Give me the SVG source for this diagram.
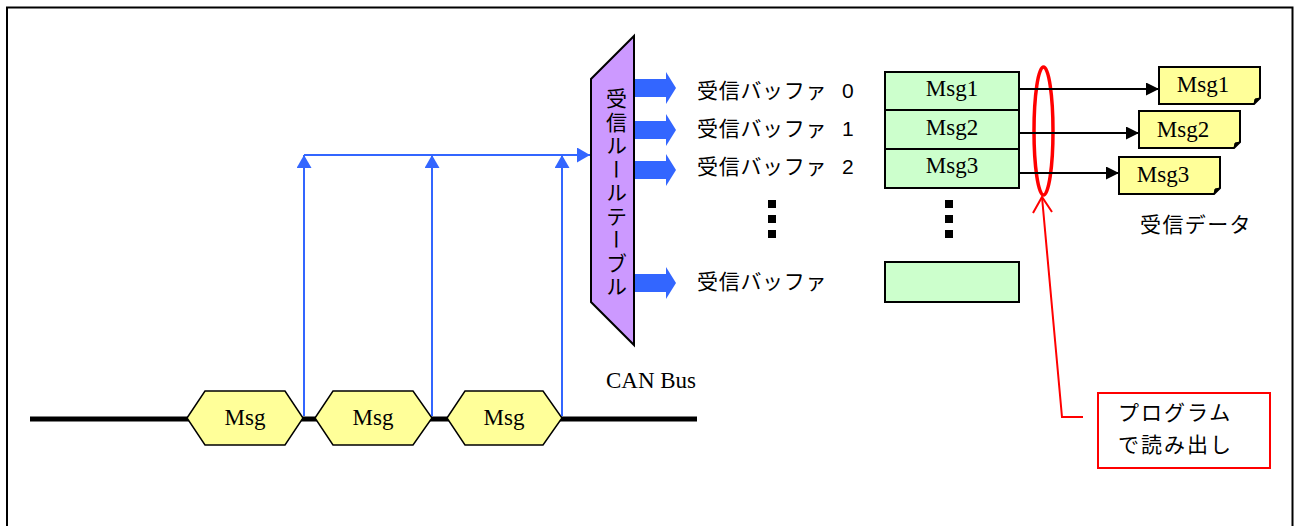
<svg xmlns="http://www.w3.org/2000/svg" width="1296" height="526" viewBox="0 0 1296 526">
  <defs>
    <style>
      .jp { font-family: "Liberation Sans", "Noto Sans CJK JP", sans-serif; font-size: 21px; fill: #000; }
      .serif { font-family: "Liberation Serif", serif; font-size: 23px; fill: #000; text-anchor: middle; }
      .blue { stroke: #3366FF; stroke-width: 2; fill: none; }
      .black { stroke: #000; stroke-width: 2; fill: none; }
      .red { stroke: #FF0000; stroke-width: 2; fill: none; }
      .hex { fill: #FFFF99; stroke: #000; stroke-width: 1.5; }
      .buf { fill: #CCFFCC; stroke: #000; stroke-width: 2; }
      .note { fill: #FFFF99; stroke: #000; stroke-width: 2; }
      .dot { fill: #000; }
    </style>
    <marker id="blueHead" viewBox="0 0 13 15" refX="13" refY="7.5" markerWidth="13" markerHeight="15" markerUnits="userSpaceOnUse" orient="auto">
      <path d="M0,0 L13,7.5 L0,15 Z" fill="#3366FF"/>
    </marker>
    <marker id="blackHead" viewBox="0 0 13 13" refX="13" refY="6.5" markerWidth="13" markerHeight="13" markerUnits="userSpaceOnUse" orient="auto">
      <path d="M0,0 L13,6.5 L0,13 Z" fill="#000"/>
    </marker>
    <!-- wide block arrow leaving the rule table -->
    <path id="blockArrow" d="M0,-9 H31 V-16 L41,0 L31,16 V9 H0 Z" fill="#3366FF"/>
    <!-- note with a turned-down corner -->
    <g id="noteShape">
      <path class="note" d="M0,0 H101 V31 L95,37 H0 Z"/>
      <path d="M95,37 L96,32 L101,31 Z" fill="#000" stroke="#000" stroke-width="1"/>
    </g>
  </defs>

  <!-- frame -->
  <rect x="7" y="7.5" width="1285.5" height="540" fill="none" stroke="#000" stroke-width="2"/>

  <!-- CAN bus line -->
  <g id="can-bus">
    <line x1="30" y1="419" x2="697" y2="419" stroke="#000" stroke-width="5"/>
    <text class="serif" x="651" y="388">CAN Bus</text>
  </g>

  <!-- messages on the bus -->
  <g id="msg-a">
    <polygon class="hex" points="187,418 205,391 285,391 303,418 285,445 205,445"/>
    <text class="serif" x="245" y="425">Msg</text>
  </g>
  <g id="msg-b">
    <polygon class="hex" points="315,418 333,391 413,391 432,418 413,445 333,445"/>
    <text class="serif" x="373" y="425">Msg</text>
  </g>
  <g id="msg-c">
    <polygon class="hex" points="447,418 465,391 543,391 562,418 543,445 465,445"/>
    <text class="serif" x="504" y="425">Msg</text>
  </g>

  <!-- receive rule table -->
  <g id="rule-table">
    <polygon points="634,36 634,345 591,302 591,79" fill="#CC99FF" stroke="#000" stroke-width="2"/>
    <text class="jp" x="615" y="88" style="writing-mode: vertical-rl; letter-spacing: 2.5px;">受信ルールテーブル</text>
  </g>

  <!-- receive buffers -->
  <g id="buffer-labels">
    <use href="#blockArrow" x="635" y="88"/>
    <use href="#blockArrow" x="635" y="130"/>
    <use href="#blockArrow" x="635" y="170"/>
    <use href="#blockArrow" x="635" y="283"/>
    <text class="jp" x="697" y="98" style="letter-spacing: 0.7px;">受信バッファ <tspan x="842">0</tspan></text>
    <text class="jp" x="697" y="136" style="letter-spacing: 0.7px;">受信バッファ <tspan x="842">1</tspan></text>
    <text class="jp" x="697" y="174" style="letter-spacing: 0.7px;">受信バッファ <tspan x="842">2</tspan></text>
    <text class="jp" x="697" y="289" style="letter-spacing: 0.7px;">受信バッファ</text>
    <rect class="dot" x="768" y="200" width="8" height="8"/>
    <rect class="dot" x="768" y="215" width="8" height="8"/>
    <rect class="dot" x="768" y="230" width="8" height="8"/>
  </g>

  <g id="buffer-1">
    <rect class="buf" x="885" y="72" width="134" height="38"/>
    <text class="serif" x="952" y="96">Msg1</text>
  </g>
  <g id="buffer-2">
    <rect class="buf" x="885" y="110" width="134" height="39"/>
    <text class="serif" x="952" y="135">Msg2</text>
  </g>
  <g id="buffer-3">
    <rect class="buf" x="885" y="149" width="134" height="39"/>
    <text class="serif" x="952" y="173">Msg3</text>
  </g>
  <g id="buffer-dots">
    <rect class="dot" x="945" y="200" width="8" height="8"/>
    <rect class="dot" x="945" y="215" width="8" height="8"/>
    <rect class="dot" x="945" y="230" width="8" height="8"/>
  </g>
  <g id="buffer-n">
    <rect class="buf" x="885" y="262" width="134" height="40"/>
  </g>

  <!-- received data -->
  <g id="data-1">
    <use href="#noteShape" x="1159" y="67"/>
    <text class="serif" x="1203" y="92">Msg1</text>
  </g>
  <g id="data-2">
    <use href="#noteShape" x="1139" y="111"/>
    <text class="serif" x="1183" y="137">Msg2</text>
  </g>
  <g id="data-3">
    <use href="#noteShape" x="1119" y="157"/>
    <text class="serif" x="1163" y="182">Msg3</text>
  </g>
  <g id="data-label">
    <text class="jp" x="1140" y="232" style="letter-spacing: 1.4px;">受信データ</text>
  </g>

  <!-- program read callout -->
  <g id="read-marker">
    <ellipse cx="1043.5" cy="131" rx="9.5" ry="64" fill="none" stroke="#FF0000" stroke-width="3.5"/>
  </g>
  <g id="read-note">
    <rect x="1098" y="393" width="172" height="75" fill="#FFFFFF" stroke="#FF0000" stroke-width="2"/>
    <text class="jp" x="1118" y="420" style="letter-spacing: 2px;">プログラム</text>
    <text class="jp" x="1118" y="452" style="letter-spacing: 2px;">で読み出し</text>
  </g>

  <!-- connectors -->
  <g id="connectors">
    <line class="blue" x1="304" y1="416" x2="304" y2="155" marker-end="url(#blueHead)"/>
    <line class="blue" x1="432" y1="416" x2="432" y2="155" marker-end="url(#blueHead)"/>
    <line class="blue" x1="562" y1="416" x2="562" y2="155" marker-end="url(#blueHead)"/>
    <line class="blue" x1="304" y1="155" x2="590" y2="155" marker-end="url(#blueHead)"/>

    <line class="black" x1="1019" y1="89" x2="1159" y2="89" marker-end="url(#blackHead)"/>
    <line class="black" x1="1019" y1="133" x2="1139" y2="133" marker-end="url(#blackHead)"/>
    <line class="black" x1="1019" y1="173" x2="1119" y2="173" marker-end="url(#blackHead)"/>

    <polyline class="red" points="1083,417 1062,417 1042,197"/>
    <polyline class="red" points="1033,213 1042,197 1052,212"/>
  </g>
</svg>
